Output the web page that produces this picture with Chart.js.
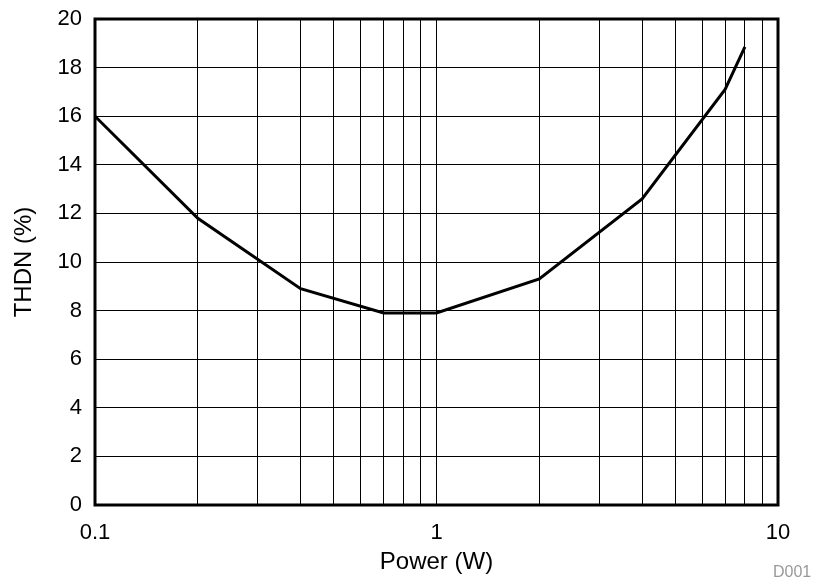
<!DOCTYPE html>
<html>
<head>
<meta charset="utf-8">
<script src="https://cdn.jsdelivr.net/npm/chart.js@4/dist/chart.umd.min.js"></script>
<style>
  html, body { margin: 0; padding: 0; background: #fff; }
  #wrap { width: 815px; height: 582px; }
</style>
</head>
<body>
<div id="wrap"><canvas id="c" width="815" height="582"></canvas></div>
<script>
// data
const power = [0.1, 0.2, 0.4, 0.7, 1, 2, 4, 7, 8];
const thdn = [16, 11.8, 8.9, 7.9, 7.9, 9.3, 12.6, 17.1, 18.85];
const xTicks = [0.1, 0.2, 0.3, 0.4, 0.5, 0.6, 0.7, 0.8, 0.9, 1, 2, 3, 4, 5, 6, 7, 8, 9, 10];
const xLabels = [0.1, 1, 10];
const yTicks = [0, 2, 4, 6, 8, 10, 12, 14, 16, 18, 20];

const FONT = '"Liberation Sans", Arial, sans-serif';

// thick frame + the small figure id
const frame = {
  id: 'frame',
  afterDraw(chart) {
    const { ctx, chartArea: a } = chart;
    ctx.save();
    ctx.strokeStyle = '#000';
    ctx.lineWidth = 3;
    ctx.strokeRect(a.left, a.top, a.right - a.left, a.bottom - a.top);
    ctx.fillStyle = '#999';
    ctx.font = '16px ' + FONT;
    ctx.textAlign = 'left';
    ctx.textBaseline = 'middle';
    ctx.fillText('D001', 773, 573);
    ctx.restore();
  }
};

new Chart(document.getElementById('c'), {
  type: 'line',
  data: {
    datasets: [{
      data: power.map((p, i) => ({ x: p, y: thdn[i] })),
      borderColor: '#000',
      borderWidth: 3,
      pointRadius: 0,
      tension: 0,
      fill: false
    }]
  },
  options: {
    responsive: false,
    animation: false,
    layout: { padding: { top: 19, right: 37, left: 0, bottom: 0 } },
    plugins: { legend: { display: false }, tooltip: { enabled: false } },
    scales: {
      x: {
        type: 'logarithmic',
        min: 0.1,
        max: 10,
        afterBuildTicks(scale) { scale.ticks = xTicks.map(v => ({ value: v })); },
        afterFit(scale) {
          scale.height = 77;
          scale.paddingLeft = 0;
          scale.paddingRight = 0;
        },
        grid: { color: '#000', lineWidth: 1, drawTicks: false },
        border: { display: false },
        ticks: {
          autoSkip: false,
          maxRotation: 0,
          padding: 15,
          color: '#000',
          font: { family: FONT, size: 22 },
          callback: v => xLabels.includes(v) ? String(v) : ''
        },
        title: {
          display: true,
          text: 'Power (W)',
          color: '#000',
          font: { family: FONT, size: 24 },
          padding: { top: 0, bottom: 5 }
        }
      },
      y: {
        min: 0,
        max: 20,
        afterBuildTicks(scale) { scale.ticks = yTicks.map(v => ({ value: v })); },
        afterFit(scale) {
          scale.width = 95;
          scale.paddingTop = 0;
          scale.paddingBottom = 0;
        },
        grid: { color: '#000', lineWidth: 1, drawTicks: false },
        border: { display: false },
        ticks: {
          padding: 13,
          color: '#000',
          font: { family: FONT, size: 22 }
        },
        title: {
          display: true,
          text: 'THDN (%)',
          color: '#000',
          font: { family: FONT, size: 24 },
          padding: { top: 10, bottom: 0 }
        }
      }
    }
  },
  plugins: [frame]
});
</script>
</body>
</html>
